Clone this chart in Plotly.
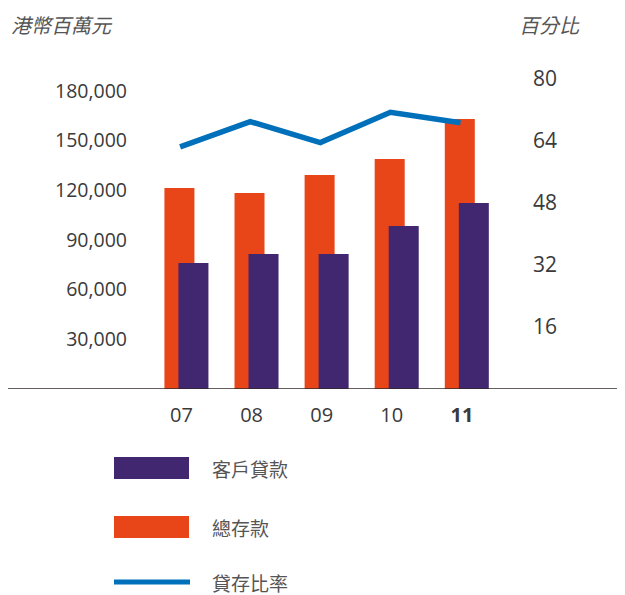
import plotly.graph_objects as go

# ---- data ----
years = ["07", "08", "09", "10", "11"]
year_labels = ["07", "08", "09", "10", "<b>11</b>"]
loans = [76100, 81500, 81500, 98500, 112400]          # 客戶貸款 (HK$ million)
deposits = [121400, 118400, 129300, 138900, 163100]   # 總存款 (HK$ million)
ratio = [62.5, 69.0, 63.6, 71.4, 68.7]                # 貸存比率 (%)
left_ticks = [30000, 60000, 90000, 120000, 150000, 180000]
right_ticks = [16, 32, 48, 64, 80]
series_names = ["客戶貸款", "總存款", "貸存比率"]

# ---- style ----
OFF = 8  # page body margin
W, H = 625 - OFF, 595 - OFF
ML, MR, MT, MB = 130 - OFF, 97, 40 - OFF, 206
PURPLE = "#41276F"
ORANGE = "#E84618"
BLUE = "#0070BA"
TXT = "#3a3a3a"
FONT = "Open Sans, Noto Sans CJK TC, sans-serif"
CJK = "Noto Sans CJK TC, sans-serif"

xs = list(range(len(years)))
bar_w = 0.428

fig = go.Figure()
fig.add_trace(go.Bar(x=[x - 0.03 for x in xs], y=deposits, width=bar_w,
                     marker=dict(color=ORANGE, line=dict(width=0)),
                     name=series_names[1], showlegend=False))
fig.add_trace(go.Bar(x=[x + 0.17 for x in xs], y=loans, width=bar_w,
                     marker=dict(color=PURPLE, line=dict(width=0)),
                     name=series_names[0], showlegend=False))
fig.add_trace(go.Scatter(x=[x - 0.02 for x in xs], y=ratio, yaxis="y2",
                         mode="lines", line=dict(color=BLUE, width=5.5),
                         name=series_names[2], showlegend=False))

plot_w = W - ML - MR
plot_h = H - MT - MB


def px(xs_screen):
    return (xs_screen - OFF - ML) / plot_w


def py(ys_screen):
    return (H - MB - (ys_screen - OFF)) / plot_h


fig.update_layout(
    width=W, height=H,
    margin=dict(l=ML, r=MR, t=MT, b=MB, pad=0),
    paper_bgcolor="white", plot_bgcolor="white",
    barmode="overlay",
    font=dict(family=FONT, color=TXT, size=18),
    xaxis=dict(range=[-0.735, 4.943], tickvals=xs, ticktext=year_labels,
               showgrid=False, zeroline=False, showline=False, ticks="",
               tickfont=dict(size=20, color=TXT), ticklabelstandoff=12),
    yaxis=dict(range=[0, 210800], tickvals=left_ticks,
               ticktext=[f"{v:,}" for v in left_ticks],
               showgrid=False, zeroline=False, showline=False, ticks="",
               tickfont=dict(size=19.5, color=TXT), ticklabelstandoff=2),
    yaxis2=dict(range=[0, 90.06], overlaying="y", side="right",
                tickvals=right_ticks, ticktext=[str(v) for v in right_ticks],
                showgrid=False, zeroline=False, showline=False, ticks="",
                tickfont=dict(size=21, color=TXT), ticklabelstandoff=4),
)

# baseline spanning nearly the full width
fig.add_shape(type="line", xref="paper", yref="y", x0=px(8), x1=px(625),
              y0=0, y1=0, line=dict(color="#332a2a", width=1.5))

# axis titles
fig.add_annotation(xref="paper", yref="paper", x=px(9), y=py(24), xanchor="left",
                   yanchor="middle", text="<i>港幣百萬元</i>", showarrow=False,
                   font=dict(family=CJK, size=20, color="#555555"))
fig.add_annotation(xref="paper", yref="paper", x=px(517), y=py(24), xanchor="left",
                   yanchor="middle", text="<i>百分比</i>", showarrow=False,
                   font=dict(family=CJK, size=20, color="#555555"))

# custom legend
leg_rows = [(series_names[0], PURPLE, "bar", 468), (series_names[1], ORANGE, "bar", 527),
            (series_names[2], BLUE, "line", 582)]
for name, col, kind, yc in leg_rows:
    if kind == "bar":
        fig.add_shape(type="rect", xref="paper", yref="paper", x0=px(114), x1=px(189),
                      y0=py(yc + 11), y1=py(yc - 11), fillcolor=col, line=dict(width=0))
    else:
        fig.add_shape(type="line", xref="paper", yref="paper", x0=px(114), x1=px(190),
                      y0=py(yc), y1=py(yc), line=dict(color=col, width=5))
    fig.add_annotation(xref="paper", yref="paper", x=px(210), y=py(yc), xanchor="left",
                       yanchor="middle", text=name, showarrow=False,
                       font=dict(family=CJK, size=19, color="#555555"))

fig.write_html("out.html")
